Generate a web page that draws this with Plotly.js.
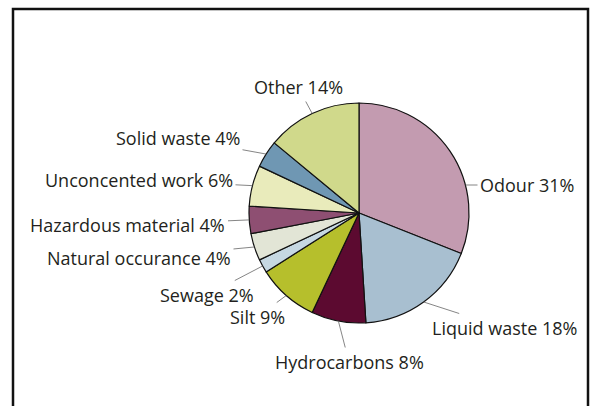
<!DOCTYPE html>
<html>
<head>
<meta charset="utf-8">
<script src="https://cdn.plot.ly/plotly-3.0.1.min.js"></script>
<style>html,body{margin:0;padding:0;background:#fff;}#chart{width:594px;height:406px;}</style>
</head>
<body>
<div id="chart"></div>
<script>
// ---- data ----
const categories = ["Odour", "Liquid waste", "Hydrocarbons", "Silt", "Sewage",
  "Natural occurance", "Hazardous material", "Unconcented work", "Solid waste", "Other"];
const percents = [31, 18, 8, 9, 2, 4, 4, 6, 4, 14];
const sliceColors = ["#c39bb0", "#a8bfd0", "#5c0a30", "#b6bf2c", "#c6d8e2",
  "#e2e5d6", "#8e4f72", "#e9ebbb", "#6f97b3", "#d0d98b"];

// ---- layout constants (pixels) ----
const W = 594, H = 406;
const CX = 359, CY = 213, R = 110;
// label text centres and leader attachment mode
const labelPos = [
  {tx: 527, ty: 185, attach: "horizontal"},
  {tx: 504, ty: 328},
  {tx: 349, ty: 362},
  {tx: 257, ty: 317},
  {tx: 207, ty: 295},
  {tx: 139, ty: 258},
  {tx: 128, ty: 225},
  {tx: 139, ty: 180},
  {tx: 178, ty: 138},
  {tx: 298, ty: 87}
];

const total = percents.reduce((a, b) => a + b, 0);
let cum = 0;
const annotations = percents.map((v, i) => {
  const mid = (cum + v / 2) / total * 2 * Math.PI;
  cum += v;
  const lp = labelPos[i];
  let px, py;
  if (lp.attach === "horizontal") {
    const dy = lp.ty - CY;
    px = CX + Math.sqrt(R * R - dy * dy);
    py = lp.ty;
  } else {
    px = CX + R * Math.sin(mid);
    py = CY - R * Math.cos(mid);
  }
  return {
    xref: "paper", yref: "paper",
    x: px / W, y: 1 - py / H,
    ax: lp.tx - px, ay: lp.ty - py, axref: "pixel", ayref: "pixel",
    text: categories[i] + " " + v + "%",
    showarrow: true, arrowhead: 0, arrowwidth: 0.8, arrowcolor: "#666",
    standoff: 0, startstandoff: 0, borderpad: 2,
    font: {family: "Open Sans, sans-serif", size: 18, color: "#231f20"}
  };
});

const trace = {
  type: "pie",
  labels: categories,
  values: percents,
  sort: false,
  direction: "clockwise",
  rotation: 0,
  textinfo: "none",
  hoverinfo: "label+percent",
  showlegend: false,
  marker: {colors: sliceColors, line: {color: "#111", width: 1.2}},
  domain: {
    x: [(CX - R) / W, (CX + R) / W],
    y: [1 - (CY + R) / H, 1 - (CY - R) / H]
  }
};

const layout = {
  width: W, height: H,
  margin: {l: 0, r: 0, t: 0, b: 0},
  paper_bgcolor: "#ffffff",
  showlegend: false,
  annotations: annotations,
  shapes: [{
    type: "rect", xref: "paper", yref: "paper",
    x0: 13 / W, x1: 588 / W, y0: -0.05, y1: 1 - 9 / H,
    line: {color: "#111", width: 2.5}
  }]
};

Plotly.newPlot("chart", [trace], layout, {displayModeBar: false, staticPlot: true});
</script>
</body>
</html>
